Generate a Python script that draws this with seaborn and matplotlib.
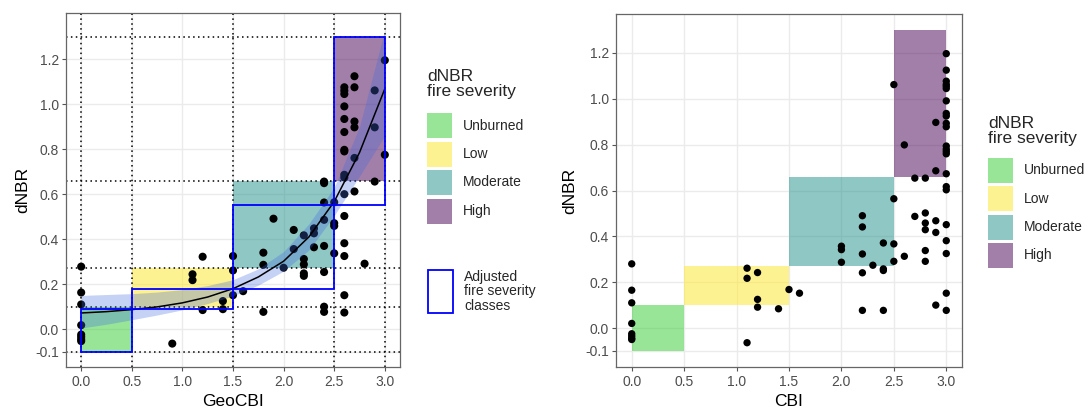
import numpy as np
import pandas as pd
import matplotlib
matplotlib.use("Agg")
import matplotlib.pyplot as plt
from matplotlib.patches import Rectangle
import seaborn as sns

# ---------------- data ----------------
geo_x = ([0.0] * 8 + [0.9] + [1.1] * 2 + [1.2] * 2 + [1.4] * 2 + [1.5] * 3 + [1.6] +
         [1.8] * 3 + [1.9] + [2.0] + [2.1] * 2 + [2.2] * 5 + [2.3] * 3 + [2.4] * 8 +
         [2.5] * 4 + [2.6] * 16 + [2.7] * 6 + [2.8] + [2.9] * 3 + [3.0] * 2)
geo_y = [0.278, 0.163, 0.11, 0.018, -0.024, -0.034, -0.045, -0.053,
         -0.064,
         0.244, 0.218,
         0.322, 0.085,
         0.125, 0.089,
         0.325, 0.261, 0.151,
         0.169,
         0.34, 0.286, 0.077,
         0.491,
         0.273,
         0.441, 0.356,
         0.417, 0.312, 0.288, 0.248, 0.237,
         0.448, 0.426, 0.364,
         0.656, 0.649, 0.563, 0.486, 0.37, 0.254, 0.1, 0.077,
         0.564, 0.471, 0.459, 0.337,
         1.075, 1.06, 1.045, 0.99, 0.934, 0.876, 0.797, 0.79, 0.686, 0.674,
         0.6, 0.503, 0.382, 0.325, 0.151, 0.074,
         1.124, 1.075, 0.923, 0.897, 0.761, 0.612,
         0.291,
         1.061, 0.897, 0.656,
         1.195, 0.775]

cbi_x = ([0.0] * 8 + [1.1] * 3 + [1.2] * 3 + [1.4] + [1.5] + [1.6] + [2.0] * 3 +
         [2.2] * 5 + [2.3] + [2.4] * 4 + [2.5] * 4 + [2.6] * 2 + [2.7] * 2 +
         [2.8] * 6 + [2.9] * 5 + [3.0] * 23)
cbi_y = [0.28, 0.165, 0.11, 0.02, -0.025, -0.035, -0.045, -0.05,
         0.261, 0.217, -0.064,
         0.242, 0.125, 0.091,
         0.084,
         0.168,
         0.152,
         0.357, 0.342, 0.287,
         0.49, 0.441, 0.323, 0.241, 0.077,
         0.274,
         0.371, 0.258, 0.251, 0.077,
         1.062, 0.564, 0.367, 0.291,
         0.799, 0.313,
         0.654, 0.487,
         0.654, 0.502, 0.458, 0.429, 0.338, 0.291,
         0.897, 0.686, 0.468, 0.417, 0.1,
         1.197, 1.125, 1.077, 1.063, 1.055, 1.045, 0.991, 0.936, 0.925, 0.893,
         0.878, 0.794, 0.78, 0.77, 0.76, 0.673, 0.617, 0.603, 0.451, 0.381,
         0.325, 0.152, 0.077]

# fitted curve and confidence band
fit_x = [0.0, 0.25, 0.5, 0.75, 1.0, 1.25, 1.5, 1.75, 2.0, 2.25, 2.5, 2.75, 3.0]
fit_y = [0.072, 0.078, 0.087, 0.099, 0.117, 0.143, 0.180, 0.232, 0.302, 0.410, 0.567, 0.785, 1.068]
fit_lo = [0.005, 0.022, 0.042, 0.063, 0.086, 0.114, 0.148, 0.196, 0.258, 0.352, 0.505, 0.680, 0.860]
fit_hi = [0.150, 0.154, 0.158, 0.165, 0.176, 0.194, 0.220, 0.268, 0.345, 0.468, 0.630, 0.900, 1.330]

class_names = ["Unburned", "Low", "Moderate", "High"]
class_colors = ["#32CD32", "#FDE725", "#21908C", "#440154"]
class_xmin = [0.0, 0.5, 1.5, 2.5]
class_xmax = [0.5, 1.5, 2.5, 3.0]
class_ymin = [-0.1, 0.1, 0.27, 0.66]
class_ymax = [0.1, 0.27, 0.66, 1.3]
adj_ymin = [-0.1, 0.09, 0.18, 0.55]
adj_ymax = [0.09, 0.18, 0.55, 1.3]

dot_vlines = [0.0, 0.5, 1.5, 2.5, 3.0]
dot_hlines = [-0.1, 0.1, 0.27, 0.66, 1.3]

x_ticks = [0.0, 0.5, 1.0, 1.5, 2.0, 2.5, 3.0]
x_labels = ["0.0", "0.5", "1.0", "1.5", "2.0", "2.5", "3.0"]
y_ticks = [-0.1, 0.0, 0.2, 0.4, 0.6, 0.8, 1.0, 1.2]
y_labels = ["-0.1", "0.0", "0.2", "0.4", "0.6", "0.8", "1.0", "1.2"]

# ---------------- style ----------------
sns.set_theme(style="whitegrid")
plt.rcParams["font.family"] = ["Liberation Sans", "DejaVu Sans"]

W, H = 1088, 408
fig = plt.figure(figsize=(W / 100, H / 100), dpi=100)


def fx(px):
    return px / W


def fy(py):
    return 1 - py / H


ax1 = fig.add_axes([fx(66), fy(367), (400 - 66) / W, (367 - 13) / H])
ax2 = fig.add_axes([fx(616), fy(367), (962 - 616) / W, (367 - 14) / H])


def style_axes(ax, ylim):
    ax.set_xlim(-0.15, 3.15)
    ax.set_ylim(*ylim)
    ax.set_xticks(x_ticks)
    ax.set_xticklabels(x_labels)
    ax.set_yticks(y_ticks)
    ax.set_yticklabels(y_labels)
    ax.grid(True, color="#ebebeb", linewidth=1.0)
    ax.set_axisbelow(True)
    for s in ax.spines.values():
        s.set_color("#666666")
        s.set_linewidth(0.9)
        s.set_visible(True)
    ax.tick_params(axis="both", which="major", bottom=True, left=True, length=3,
                   width=0.8, color="#555555", labelsize=10, labelcolor="#4d4d4d", pad=2)
    ax.tick_params(axis="x", pad=3)
    ax.set_facecolor("white")


style_axes(ax1, (-0.168, 1.405))
style_axes(ax2, (-0.17, 1.37))

# ---------- left panel ----------
for x0, x1, y0, y1, c in zip(class_xmin, class_xmax, class_ymin, class_ymax, class_colors):
    ax1.add_patch(Rectangle((x0, y0), x1 - x0, y1 - y0, facecolor=c, alpha=0.5,
                            edgecolor="none", zorder=1))
for v in dot_vlines:
    ax1.axvline(v, color="black", linestyle=(0, (1, 2.2)), linewidth=1.1, zorder=2)
for h in dot_hlines:
    ax1.axhline(h, color="black", linestyle=(0, (1, 2.2)), linewidth=1.1, zorder=2)

df_geo = pd.DataFrame({"GeoCBI": geo_x, "dNBR": geo_y})
sns.scatterplot(data=df_geo, x="GeoCBI", y="dNBR", ax=ax1, color="black", s=34,
                edgecolor="none", linewidth=0, zorder=3, legend=False)

ax1.fill_between(fit_x, fit_lo, fit_hi, color="#4169E1", alpha=0.3, linewidth=0, zorder=4)
df_fit = pd.DataFrame({"GeoCBI": fit_x, "dNBR": fit_y})
sns.lineplot(data=df_fit, x="GeoCBI", y="dNBR", ax=ax1, color="black", linewidth=1.1, zorder=5)

for x0, x1, y0, y1 in zip(class_xmin, class_xmax, adj_ymin, adj_ymax):
    ax1.add_patch(Rectangle((x0, y0), x1 - x0, y1 - y0, facecolor="none",
                            edgecolor="#0000FF", linewidth=1.3, zorder=6))
ax1.set_xlabel("GeoCBI", fontsize=12.5, color="black", labelpad=3)
ax1.set_ylabel("dNBR", fontsize=12.5, color="black", labelpad=4)

# ---------- right panel ----------
for x0, x1, y0, y1, c in zip(class_xmin, class_xmax, class_ymin, class_ymax, class_colors):
    ax2.add_patch(Rectangle((x0, y0), x1 - x0, y1 - y0, facecolor=c, alpha=0.5,
                            edgecolor="none", zorder=1))
df_cbi = pd.DataFrame({"CBI": cbi_x, "dNBR": cbi_y})
sns.scatterplot(data=df_cbi, x="CBI", y="dNBR", ax=ax2, color="black", s=28,
                edgecolor="none", linewidth=0, zorder=3, legend=False)
ax2.set_xlabel("CBI", fontsize=12.5, color="black", labelpad=3)
ax2.set_ylabel("dNBR", fontsize=12.5, color="black", labelpad=6)


# ---------- legends ----------
def draw_legend(x_left, title_top, key_tops, key_w=25, key_h=25, label_fs=10):
    fig.text(fx(x_left), fy(title_top), "dNBR\nfire severity", fontsize=12.5,
             ha="left", va="top", linespacing=1.0)
    for name, c, kt in zip(class_names, class_colors, key_tops):
        fig.add_artist(Rectangle((fx(x_left), fy(kt + key_h)), key_w / W, key_h / H,
                                 transform=fig.transFigure, facecolor=c, alpha=0.5,
                                 edgecolor="none"))
        fig.text(fx(x_left + key_w + 11), fy(kt + key_h / 2), name, fontsize=label_fs,
                 ha="left", va="center")


draw_legend(427, 69, [113, 141.5, 170, 198.5])
# adjusted classes key
fig.add_artist(Rectangle((fx(428), fy(313)), 25 / W, 43 / H, transform=fig.transFigure,
                         facecolor="white", edgecolor="#0000FF", linewidth=1.3))
fig.text(fx(464), fy(291.5), "Adjusted\nfire severity\nclasses", fontsize=10,
         ha="left", va="center", linespacing=1.02)

draw_legend(988, 116, [157.5, 186, 214.5, 243])

fig.savefig("out.png", dpi=100, facecolor="white")
